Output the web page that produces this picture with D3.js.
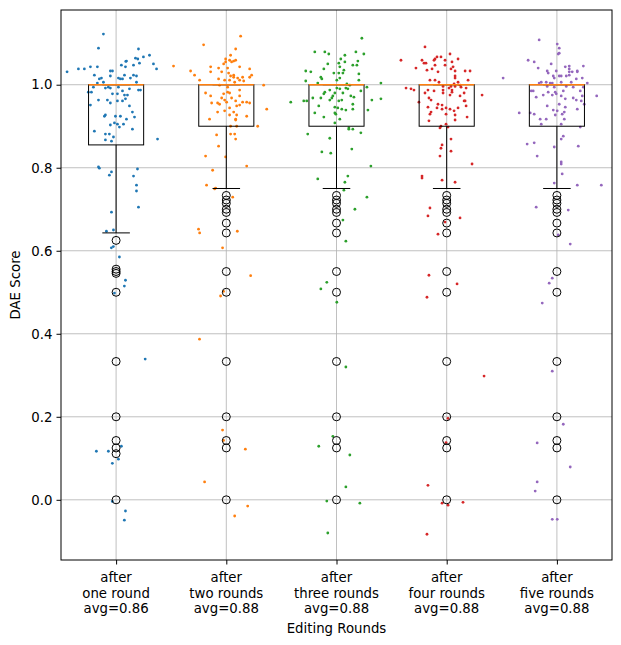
<!DOCTYPE html>
<html>
<head>
<meta charset="utf-8">
<script src="https://cdn.jsdelivr.net/npm/d3@7"></script>
<style>
  body { margin: 0; background: #fff; }
  text { font-family: "DejaVu Sans", sans-serif; }
</style>
</head>
<body>
<svg id="chart" width="621" height="645"></svg>
<script>
// categories and labels
let rounds = [1, 2, 3, 4, 5];
let roundNames = ["one round", "two rounds", "three rounds", "four rounds", "five rounds"];
let averages = ["0.86", "0.88", "0.88", "0.88", "0.88"];
let colors = ["#1f77b4", "#ff7f0e", "#2ca02c", "#d62728", "#9467bd"];
let yTicks = [0.0, 0.2, 0.4, 0.6, 0.8, 1.0];

// box statistics
let q1 = [0.855, 0.9, 0.9, 0.9, 0.9];
let medians = [1.0, 1.0, 1.0, 1.0, 1.0];
let q3 = [1.0, 1.0, 1.0, 1.0, 1.0];
let whiskerLow = [0.643, 0.75, 0.75, 0.75, 0.75];
let whiskerHigh = [1.0, 1.0, 1.0, 1.0, 1.0];

// outliers
let fliers1 = [0.625, 0.5556, 0.55, 0.5455, 0.5, 0.3333, 0.2, 0.1429, 0.125, 0.1111, 0];
let fliersRest = [0.7333, 0.7222, 0.7143, 0.7, 0.6923, 0.6667, 0.6429, 0.55, 0.5, 0.3333, 0.2, 0.1429, 0.125, 0];
let fliers = [fliers1, fliersRest, fliersRest, fliersRest, fliersRest];

// jittered scores: [x offset, score]
let points1 = [[-0.115,1.122],[-0.16,1.088],[0.203,1.086],[0.303,1.071],[0.248,1.067],[0.176,1.064],[0.197,1.062],[0.094,1.057],[0.088,1.056],[0.048,1.047],[0.212,1.052],[0.339,1.05],[0.158,1.047],[0.085,1.043],[0.367,1.038],[-0.445,1.031],[-0.342,1.038],[-0.288,1.038],[-0.233,1.043],[-0.17,1.043],[-0.052,1.033],[-0.033,1.033],[-0.197,1.023],[-0.052,1.021],[0.076,1.023],[0.158,1.023],[0.185,1.021],[0.021,1.016],[0.039,1.014],[0.058,1.014],[-0.152,1.014],[-0.133,1.016],[0.13,1.016],[-0.115,1.006],[-0.17,1.004],[0.185,1.006],[-0.206,0.994],[-0.07,0.994],[-0.097,0.992],[-0.052,0.992],[0.021,0.994],[0.121,0.99],[0.203,0.987],[0.221,0.987],[-0.252,0.982],[-0.224,0.982],[0.058,0.985],[-0.033,0.978],[0.012,0.978],[0.076,0.975],[0.103,0.975],[-0.16,0.963],[-0.079,0.963],[-0.052,0.956],[0.012,0.961],[0.058,0.961],[0.085,0.966],[-0.233,0.951],[0.121,0.949],[0.148,0.934],[-0.097,0.927],[-0.106,0.924],[-0.006,0.924],[0.039,0.924],[0.167,0.922],[0.094,0.917],[-0.052,0.903],[-0.015,0.908],[0.012,0.905],[0.067,0.905],[0.03,0.898],[0.148,0.893],[-0.197,0.888],[-0.097,0.881],[-0.061,0.881],[-0.024,0.874],[-0.097,0.867],[-0.042,0.864],[0.376,0.869],[-0.16,0.802],[-0.152,0.799],[-0.042,0.79],[-0.061,0.782],[0.194,0.797],[0.158,0.78],[0.185,0.758],[0.185,0.744],[0.203,0.705],[-0.042,0.693],[-0.088,0.647],[-0.024,0.65],[-0.043,0.607],[-0.025,0.61],[0.03,0.585],[0.085,0.529],[0.075,0.515],[-0.015,0.498],[0.264,0.339],[-0.179,0.117],[-0.07,0.117],[0.048,0.129],[-0.034,0.088],[0.021,0.098],[0.085,-0.027],[0.075,-0.049],[-0.034,-0.004]];
let points2 = [[0.13,1.117],[-0.206,1.096],[0.085,1.086],[0.039,1.071],[-0.006,1.062],[0.03,1.059],[0.085,1.059],[0.067,1.057],[0.048,1.055],[-0.006,1.055],[-0.024,1.05],[-0.479,1.045],[0.121,1.043],[-0.142,1.043],[-0.07,1.04],[0.012,1.04],[0.212,1.038],[-0.324,1.033],[-0.142,1.031],[-0.042,1.031],[0.021,1.028],[-0.288,1.023],[0.23,1.023],[0.067,1.023],[0.039,1.021],[0.067,1.018],[0.103,1.016],[0.148,1.018],[0.212,1.018],[-0.07,1.014],[-0.015,1.011],[0.03,1.011],[-0.242,1.011],[0.121,1.011],[0.158,1.009],[0.076,1.006],[0.339,0.999],[-0.061,0.999],[0.012,0.994],[0.121,0.987],[0.012,0.982],[0.03,0.98],[-0.188,0.98],[-0.142,0.973],[-0.024,0.978],[0.121,0.973],[0.048,0.968],[-0.042,0.968],[-0.015,0.963],[0.085,0.961],[0.148,0.958],[0.185,0.958],[0.212,0.956],[-0.133,0.956],[-0.079,0.956],[-0.061,0.953],[0.003,0.958],[0.121,0.951],[0.094,0.949],[0.03,0.944],[0.067,0.934],[0.367,0.941],[-0.079,0.934],[-0.015,0.937],[0.094,0.927],[0.03,0.927],[0.185,0.924],[-0.152,0.917],[0.085,0.917],[0.085,0.915],[0.039,0.9],[0.094,0.9],[0.285,0.9],[0.039,0.881],[0.076,0.881],[-0.088,0.879],[0.085,0.869],[-0.07,0.852],[-0.006,0.826],[-0.188,0.828],[-0.124,0.794],[0.185,0.804],[-0.179,0.758],[-0.097,0.751],[-0.106,0.749],[0.058,0.729],[-0.252,0.652],[-0.242,0.643],[0.1,0.647],[-0.034,0.607],[0.221,0.54],[-0.052,0.491],[-0.025,0.502],[-0.243,0.387],[-0.034,0.168],[-0.025,0.143],[0.173,0.122],[-0.197,0.043],[0.194,-0.015],[0.076,-0.039]];
let points3 = [[0.23,1.112],[-0.197,1.079],[-0.106,1.079],[-0.07,1.074],[0.176,1.079],[0.248,1.074],[0.076,1.071],[0.039,1.062],[0.194,1.057],[0.076,1.055],[0.021,1.052],[-0.079,1.05],[0.148,1.047],[0.185,1.047],[0.03,1.043],[-0.115,1.038],[0.067,1.035],[-0.279,1.033],[-0.233,1.031],[-0.024,1.028],[0.021,1.028],[0.058,1.028],[0.203,1.026],[-0.142,1.018],[0.03,1.016],[-0.133,1.014],[0.003,1.011],[0.203,1.011],[-0.279,1.009],[0.403,1.004],[0.094,1.002],[-0.17,1.004],[0.121,0.999],[0.276,0.994],[0.003,0.992],[0.03,0.99],[0.085,0.992],[0.103,0.99],[-0.061,0.987],[0.221,0.985],[-0.106,0.982],[-0.115,0.978],[-0.015,0.98],[0.058,0.98],[-0.033,0.973],[0.13,0.973],[0.158,0.97],[-0.215,0.968],[-0.142,0.968],[-0.042,0.968],[-0.061,0.963],[0.021,0.961],[0.048,0.963],[0.321,0.963],[0.403,0.966],[-0.415,0.958],[-0.297,0.961],[-0.27,0.961],[0.148,0.953],[-0.161,0.949],[-0.015,0.946],[0.012,0.944],[0.048,0.941],[0.085,0.939],[0.148,0.941],[0.285,0.939],[-0.197,0.932],[-0.015,0.932],[-0.006,0.929],[-0.115,0.922],[0.03,0.917],[-0.015,0.908],[0.112,0.896],[0.112,0.893],[0.148,0.893],[-0.261,0.881],[0.221,0.884],[-0.061,0.871],[-0.133,0.838],[-0.052,0.835],[0.139,0.845],[0.312,0.804],[0.103,0.78],[-0.17,0.773],[0.076,0.765],[0.067,0.746],[0.276,0.729],[0.167,0.7],[0.058,0.674],[0.085,0.623],[-0.088,0.524],[-0.142,0.508],[0.003,0.476],[0.085,0.32],[-0.033,0.153],[-0.161,0.129],[0.121,0.108],[0.085,0.031],[-0.088,-0.003],[0.212,-0.008],[-0.079,-0.08]];
let points4 = [[-0.197,1.091],[-0.415,1.059],[-0.224,1.059],[-0.206,1.052],[-0.188,1.052],[-0.279,1.04],[0.03,1.074],[-0.052,1.067],[-0.088,1.067],[-0.106,1.062],[-0.115,1.059],[-0.015,1.059],[0.103,1.062],[0.048,1.055],[-0.106,1.047],[-0.015,1.047],[0.058,1.043],[0.039,1.038],[-0.179,1.035],[-0.133,1.038],[0.076,1.033],[0.167,1.033],[0.212,1.033],[-0.079,1.031],[0.076,1.021],[0.076,1.016],[-0.152,1.011],[-0.106,1.011],[0.194,1.011],[-0.07,1.006],[0.103,1.006],[0.067,1.002],[0.121,0.999],[0.039,0.996],[-0.369,0.992],[-0.324,0.99],[-0.297,0.987],[-0.033,0.996],[0.076,0.996],[0.13,0.994],[0.176,0.992],[0.021,0.992],[0.048,0.987],[-0.17,0.987],[-0.115,0.985],[-0.033,0.987],[-0.033,0.98],[0.048,0.982],[-0.197,0.98],[0.158,0.98],[0.321,0.975],[0.03,0.975],[0.121,0.973],[-0.161,0.968],[-0.142,0.963],[0.158,0.961],[0.167,0.961],[-0.252,0.958],[-0.079,0.953],[-0.042,0.951],[0.176,0.949],[-0.17,0.946],[-0.088,0.944],[-0.006,0.944],[0.03,0.941],[0.103,0.944],[-0.042,0.941],[0.067,0.937],[-0.142,0.934],[-0.152,0.929],[-0.006,0.929],[0.076,0.927],[0.185,0.922],[0.076,0.915],[-0.161,0.913],[-0.006,0.905],[-0.052,0.9],[-0.061,0.896],[0.012,0.898],[0.039,0.869],[-0.042,0.855],[-0.052,0.847],[0.039,0.84],[-0.061,0.828],[0.23,0.809],[-0.224,0.78],[-0.224,0.775],[-0.042,0.77],[0.076,0.765],[-0.152,0.703],[-0.17,0.684],[0.121,0.679],[-0.015,0.669],[-0.079,0.64],[-0.161,0.541],[0.094,0.52],[-0.179,0.488],[0.339,0.298],[0.012,0.196],[-0.006,0.138],[-0.17,0.035],[-0.042,-0.008],[0.012,-0.013],[0.148,-0.006],[-0.179,-0.083]];
let points5 = [[-0.161,1.108],[0.003,1.098],[0.021,1.088],[0.021,1.076],[0.012,1.074],[-0.261,1.059],[-0.206,1.055],[-0.052,1.05],[-0.17,1.04],[-0.088,1.033],[-0.079,1.028],[-0.006,1.033],[0.076,1.043],[0.112,1.045],[0.112,1.038],[0.112,1.031],[0.112,1.023],[0.139,1.031],[0.185,1.033],[0.185,1.031],[0.24,1.045],[-0.488,1.016],[-0.033,1.021],[0.021,1.021],[0.039,1.021],[0.085,1.021],[-0.024,1.016],[0.176,1.014],[0.23,1.016],[-0.097,1.006],[-0.161,1.004],[-0.142,1.006],[-0.061,1.004],[-0.042,1.004],[0.039,1.006],[0.13,1.006],[0.276,1.004],[-0.088,0.996],[-0.024,0.994],[0.085,0.996],[0.148,0.994],[0.24,0.994],[-0.233,0.985],[-0.215,0.985],[-0.079,0.982],[-0.015,0.982],[0.058,0.985],[0.212,0.985],[-0.124,0.975],[-0.042,0.975],[-0.006,0.978],[0.039,0.973],[-0.188,0.97],[0.23,0.973],[0.361,0.973],[0.148,0.968],[0.076,0.966],[0.176,0.963],[0.221,0.961],[0.021,0.953],[0.248,0.953],[-0.088,0.949],[0.076,0.946],[-0.033,0.939],[0.185,0.941],[0.067,0.934],[0.003,0.937],[-0.342,0.932],[-0.242,0.932],[-0.206,0.929],[0.048,0.929],[-0.015,0.927],[-0.152,0.917],[-0.097,0.917],[0.067,0.917],[-0.142,0.905],[0.039,0.905],[0.212,0.898],[0.058,0.876],[0.039,0.869],[-0.27,0.857],[-0.206,0.86],[-0.024,0.85],[0.194,0.852],[-0.179,0.828],[0.039,0.814],[0.039,0.809],[0.048,0.785],[-0.024,0.763],[0.185,0.758],[0.403,0.758],[-0.188,0.705],[0.103,0.698],[0.012,0.638],[0.121,0.616],[-0.042,0.534],[-0.07,0.522],[-0.133,0.474],[-0.042,0.31],[0.058,0.182],[-0.179,0.137],[0.121,0.079],[-0.179,0.043],[-0.197,0.021],[-0.042,-0.047],[0.003,-0.047]];
let points = [points1, points2, points3, points4, points5];

let svg = d3.select("#chart");
let plotLeft = 61, plotRight = 612, plotTop = 10, plotBottom = 560;

let xScale = d3.scaleLinear().domain([0.5, 5.5]).range([plotLeft, plotRight]);
let yScale = d3.scaleLinear().domain([-0.145, 1.18]).range([plotBottom, plotTop]);

// grid
let grid = svg.append("g").attr("stroke", "#b0b0b0").attr("stroke-width", 0.8);
grid.selectAll(".gy").data(yTicks).join("line")
    .attr("x1", plotLeft).attr("x2", plotRight)
    .attr("y1", d => yScale(d)).attr("y2", d => yScale(d));
grid.selectAll(".gx").data(rounds).join("line")
    .attr("y1", plotTop).attr("y2", plotBottom)
    .attr("x1", d => xScale(d)).attr("x2", d => xScale(d));

// jittered points
rounds.forEach((r, i) => {
    svg.append("g").selectAll("circle")
        .data(points[i])
        .join("circle")
        .attr("cx", d => xScale(r + d[0]))
        .attr("cy", d => yScale(d[1]))
        .attr("r", 1.4)
        .attr("fill", colors[i]);
});

// boxes
let boxW = 0.25, capW = 0.125;
rounds.forEach((r, i) => {
    let g = svg.append("g").attr("stroke", "black").attr("fill", "none").attr("stroke-width", 1);
    g.append("rect")
        .attr("x", xScale(r - boxW)).attr("width", xScale(r + boxW) - xScale(r - boxW))
        .attr("y", yScale(q3[i])).attr("height", yScale(q1[i]) - yScale(q3[i]));
    g.append("line").attr("x1", xScale(r)).attr("x2", xScale(r))
        .attr("y1", yScale(q1[i])).attr("y2", yScale(whiskerLow[i]));
    g.append("line").attr("x1", xScale(r)).attr("x2", xScale(r))
        .attr("y1", yScale(q3[i])).attr("y2", yScale(whiskerHigh[i]));
    g.append("line").attr("x1", xScale(r - capW)).attr("x2", xScale(r + capW))
        .attr("y1", yScale(whiskerLow[i])).attr("y2", yScale(whiskerLow[i]));
    g.append("line").attr("x1", xScale(r - capW)).attr("x2", xScale(r + capW))
        .attr("y1", yScale(whiskerHigh[i])).attr("y2", yScale(whiskerHigh[i]));
    g.append("line").attr("stroke", "#ff7f0e").attr("stroke-width", 1.5)
        .attr("x1", xScale(r - boxW)).attr("x2", xScale(r + boxW))
        .attr("y1", yScale(medians[i])).attr("y2", yScale(medians[i]));
    g.selectAll("circle").data(fliers[i]).join("circle")
        .attr("cx", xScale(r)).attr("cy", d => yScale(d)).attr("r", 4);
});

// frame
svg.append("rect").attr("x", plotLeft).attr("y", plotTop)
    .attr("width", plotRight - plotLeft).attr("height", plotBottom - plotTop)
    .attr("fill", "none").attr("stroke", "black").attr("stroke-width", 1);

// axes
let yAxis = d3.axisLeft(yScale).tickValues(yTicks).tickFormat(d3.format(".1f")).tickSizeOuter(0).tickSize(4.5).tickPadding(4);
let yg = svg.append("g").attr("transform", `translate(${plotLeft},0)`).call(yAxis);
yg.select(".domain").remove();
yg.selectAll("text").style("font-size", "13.3px").style("font-family", "DejaVu Sans");

let xAxis = d3.axisBottom(xScale).tickValues(rounds).tickFormat("").tickSizeOuter(0).tickSize(4.5);
let xg = svg.append("g").attr("transform", `translate(0,${plotBottom})`).call(xAxis);
xg.select(".domain").remove();

rounds.forEach((r, i) => {
    let t = svg.append("text").attr("x", xScale(r)).attr("y", 582)
        .attr("text-anchor", "middle").style("font-size", "13.3px");
    ["after", roundNames[i], "avg=" + averages[i]].forEach((s, k) => {
        t.append("tspan").attr("x", xScale(r)).attr("dy", k === 0 ? 0 : 15.5).text(s);
    });
});

svg.append("text").attr("x", (plotLeft + plotRight) / 2).attr("y", 633)
    .attr("text-anchor", "middle").style("font-size", "13.3px").text("Editing Rounds");
svg.append("text").attr("transform", `translate(20,${(plotTop + plotBottom) / 2}) rotate(-90)`)
    .attr("text-anchor", "middle").style("font-size", "13.3px").text("DAE Score");
</script>
</body>
</html>
